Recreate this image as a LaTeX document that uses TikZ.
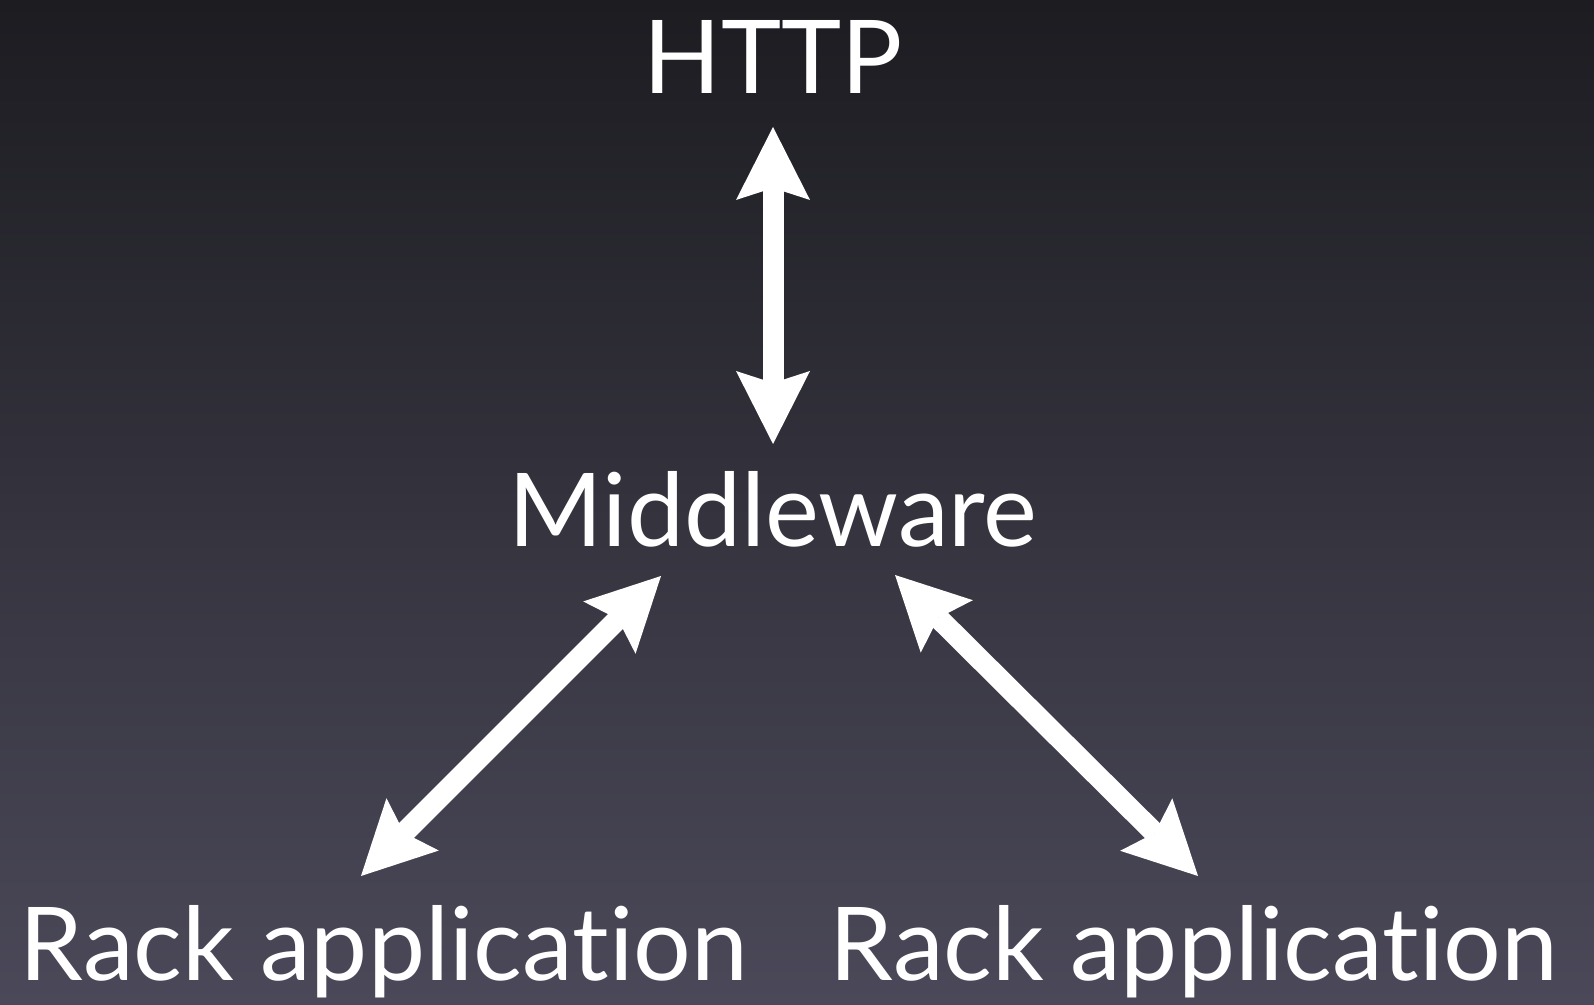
\documentclass[tikz,border=0pt]{standalone}
\usepackage{fontspec}
\setmainfont{Lato}[Ligatures={NoCommon}]
\usepackage{tikz}
\usetikzlibrary{arrows.meta}
\definecolor{slideTop}{HTML}{1C1C21}
\definecolor{slideBottom}{HTML}{4B4959}

\begin{document}
\begin{tikzpicture}
		[labelDecorate/.style={text=white,inner sep=0pt,anchor=base,font=\fontsize{29}{31}\selectfont},%
		twoWay/.style={draw=white,line width=2.1mm,
			{Stealth[length=7.3mm,width=7.4mm,inset=1.2mm,line width=0pt]}-{Stealth[length=7.3mm,width=7.4mm,inset=1.2mm,line width=0pt]}}]
		%% background
		\shade[top color=slideTop,bottom color=slideBottom] (0,0) rectangle (15.94,10.05);
		\useasboundingbox (0,0) rectangle (15.94,10.05);
		%% nodes
		\foreach \nodename/\x/\y/\caption in {
			http/7.73/9.11/HTTP, mware/7.73/4.58/Middleware,
			rackL/3.84/0.24/Rack application, rackR/11.94/0.24/Rack application}
		{
			\node (\nodename) at (\x,\y) [labelDecorate] {\caption};
		}
		%% arrows
		\draw[twoWay] ([yshift=-3.3mm]http.base) -- ([yshift=10.3mm]mware.base);
		\draw[twoWay] ([xshift=-11.2mm,yshift=-2.9mm]mware.base) -- ([xshift=-2.3mm,yshift=10.5mm]rackL.base);
		\draw[twoWay] ([xshift=12.2mm,yshift=-2.8mm]mware.base) -- ([xshift=0.4mm,yshift=10.5mm]rackR.base);
	\end{tikzpicture}
\end{document}
